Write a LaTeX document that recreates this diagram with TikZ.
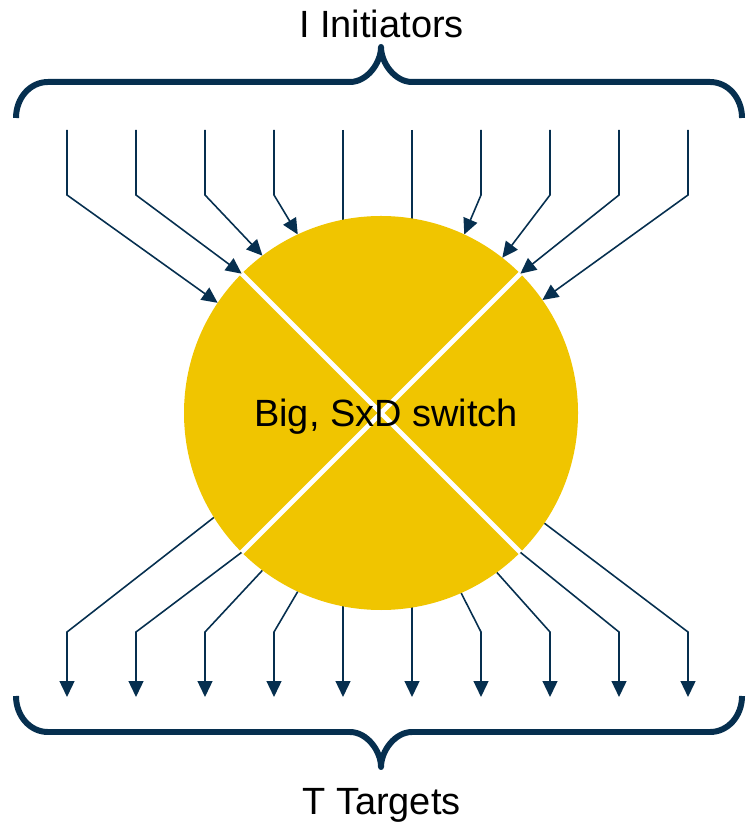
\documentclass[tikz,border=0pt]{standalone}
\usepackage{fontspec}
\setmainfont{Liberation Sans}
\usetikzlibrary{arrows.meta,backgrounds}
\definecolor{navy}{HTML}{062F4F}
\definecolor{gold}{HTML}{F0C500}
\tikzset{
  switchnode/.style={circle, fill=gold, minimum size=3.94cm, inner sep=0pt, outer sep=0pt},
  link/.style={navy, line width=0.45pt, -{Triangle[length=4.5pt,width=4.2pt]}},
  bracket/.style={navy, line width=1.7pt, line join=round},
  divider/.style={white, line width=1.4pt},
  lbl/.style={font=\fontsize{10.8}{13}\selectfont, inner sep=0pt}
}
\begin{document}
\begin{tikzpicture}
\useasboundingbox (0,0) rectangle (7.45,-8.24);
\node[switchnode] (sw) at (3.81,-4.13) {};
\node[lbl, anchor=base] (ini) at (3.815,-0.38) {I Initiators};
\node[lbl, anchor=base] (tgt) at (3.815,-8.14) {T Targets};
\coordinate (i0) at (0.67,-1.30);
\coordinate (i1) at (1.36,-1.30);
\coordinate (i2) at (2.05,-1.30);
\coordinate (i3) at (2.74,-1.30);
\coordinate (i4) at (3.43,-1.30);
\coordinate (i5) at (4.12,-1.30);
\coordinate (i6) at (4.81,-1.30);
\coordinate (i7) at (5.50,-1.30);
\coordinate (i8) at (6.19,-1.30);
\coordinate (i9) at (6.88,-1.30);
\coordinate (t0) at (0.67,-6.97);
\coordinate (t1) at (1.36,-6.97);
\coordinate (t2) at (2.05,-6.97);
\coordinate (t3) at (2.74,-6.97);
\coordinate (t4) at (3.43,-6.97);
\coordinate (t5) at (4.12,-6.97);
\coordinate (t6) at (4.81,-6.97);
\coordinate (t7) at (5.50,-6.97);
\coordinate (t8) at (6.19,-6.97);
\coordinate (t9) at (6.88,-6.97);
\begin{scope}[on background layer]
\draw [link] (i0) -- ++(0,-0.65) -- (sw.146);
\draw [link] (i1) -- ++(0,-0.65) -- (sw.135);
\draw [link] (i2) -- ++(0,-0.65) -- (sw.127);
\draw [link] (i3) -- ++(0,-0.65) -- (sw.115);
\draw [link] (i4) -- (i4 |- sw.center);
\draw [link] (i5) -- (i5 |- sw.center);
\draw [link] (i6) -- ++(0,-0.65) -- (sw.65);
\draw [link] (i7) -- ++(0,-0.65) -- (sw.52);
\draw [link] (i8) -- ++(0,-0.65) -- (sw.45);
\draw [link] (i9) -- ++(0,-0.65) -- (sw.35);
\draw [link] (sw.212) -- ([yshift=0.65cm]t0) -- (t0);
\draw [link] (sw.225) -- ([yshift=0.65cm]t1) -- (t1);
\draw [link] (sw.233) -- ([yshift=0.65cm]t2) -- (t2);
\draw [link] (sw.245) -- ([yshift=0.65cm]t3) -- (t3);
\draw [link] (t4 |- sw.center) -- (t4);
\draw [link] (t5 |- sw.center) -- (t5);
\draw [link] (sw.294) -- ([yshift=0.65cm]t6) -- (t6);
\draw [link] (sw.306) -- ([yshift=0.65cm]t7) -- (t7);
\draw [link] (sw.315) -- ([yshift=0.65cm]t8) -- (t8);
\draw [link] (sw.326) -- ([yshift=0.65cm]t9) -- (t9);
\end{scope}
\draw [divider] (sw.135) -- (sw.315);
\draw [divider] (sw.45) -- (sw.225);
\node[lbl, anchor=base] (sxd) at (3.86,-4.27) {Big, SxD switch};
\draw [bracket] (0.16,-1.18) .. controls (0.16,-0.98) and (0.30,-0.82) .. (0.48,-0.82)
  -- (3.50,-0.82) .. controls (3.67,-0.82) and (3.81,-0.63) .. (3.81,-0.47)
  .. controls (3.81,-0.63) and (3.95,-0.82) .. (4.12,-0.82)
  -- (7.10,-0.82) .. controls (7.28,-0.82) and (7.42,-0.98) .. (7.42,-1.18);
\draw [bracket] (0.16,-6.96) .. controls (0.16,-7.16) and (0.30,-7.32) .. (0.48,-7.32)
  -- (3.50,-7.32) .. controls (3.67,-7.32) and (3.81,-7.51) .. (3.81,-7.67)
  .. controls (3.81,-7.51) and (3.95,-7.32) .. (4.12,-7.32)
  -- (7.10,-7.32) .. controls (7.28,-7.32) and (7.42,-7.16) .. (7.42,-6.96);
\end{tikzpicture}
\end{document}
